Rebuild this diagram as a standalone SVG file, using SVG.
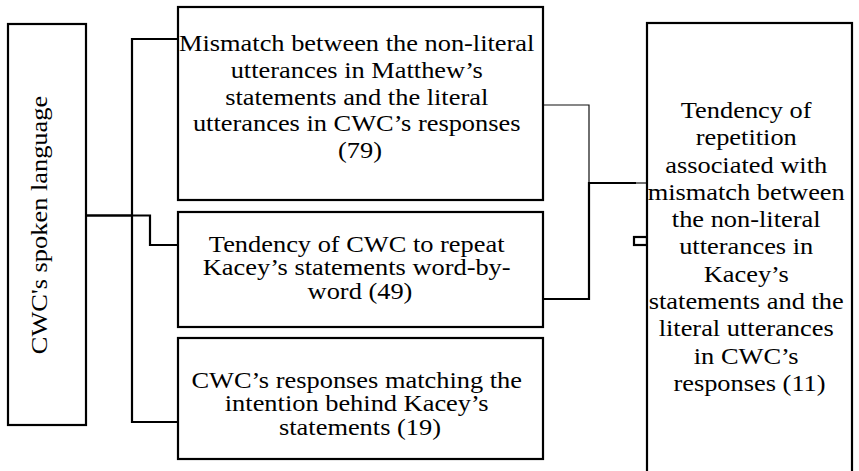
<svg xmlns="http://www.w3.org/2000/svg" width="859" height="471" viewBox="0 0 859 471">
<style>
.box{fill:#fff;stroke:#000;stroke-width:2.2}
.t{font-family:"Liberation Serif","Times New Roman",serif;font-size:24px;fill:#000;text-anchor:middle}
.c{fill:none;stroke:#000;stroke-width:2.2}
.thin{fill:none;stroke:#111;stroke-width:1.2}
</style>
<rect width="859" height="471" fill="#fff"/>
<g id="connectors">
<polyline class="c" points="86,215.5 150,215.5 150,245 178,245"/>
<polyline class="c" points="178,39 132,39 132,422 178,422"/>
<line class="c" x1="86" y1="215.5" x2="132" y2="215.5"/>
<polyline class="thin" points="543,105 589,105 589,183"/>
<polyline class="c" points="636,183 589,183 589,299 543,299"/>
<line class="thin" x1="636" y1="183" x2="647" y2="183"/>
<rect class="c" x="634" y="237" width="13" height="8" stroke-width="1.8"/>
</g>
<g id="node-left">
<rect class="box" x="8" y="24" width="78" height="401"/>
<text class="t" transform="translate(47,225) rotate(-90) scale(1.1,1)" x="0" y="0">CWC's spoken language</text>
</g>
<g id="node-mismatch">
<rect class="box" x="178" y="7" width="365" height="193"/>
<text class="t" transform="translate(360,0) scale(1.1,1)">
<tspan x="0" y="51">Mismatch between the non-literal</tspan>
<tspan x="0" y="77.8">utterances in Matthew’s</tspan>
<tspan x="0" y="104.6">statements and the literal</tspan>
<tspan x="0" y="131.4">utterances in CWC’s responses</tspan>
<tspan x="0" y="158.5">(79)</tspan>
</text>
</g>
<g id="node-repeat">
<rect class="box" x="178" y="212" width="365" height="115"/>
<text class="t" transform="translate(360,0) scale(1.1,1)">
<tspan x="0" y="252">Tendency of CWC to repeat</tspan>
<tspan x="0" y="275.5">Kacey’s statements word-by-</tspan>
<tspan x="0" y="299">word (49)</tspan>
</text>
</g>
<g id="node-matching">
<rect class="box" x="178" y="338" width="365" height="121"/>
<text class="t" transform="translate(360,0) scale(1.1,1)">
<tspan x="0" y="388">CWC’s responses matching the</tspan>
<tspan x="0" y="411.5">intention behind Kacey’s</tspan>
<tspan x="0" y="435">statements (19)</tspan>
</text>
</g>
<g id="node-right">
<rect class="box" x="647" y="23" width="205" height="460"/>
<text class="t" transform="translate(749.5,0) scale(1.1,1)">
<tspan x="0" y="118">Tendency of</tspan>
<tspan x="0" y="145.3">repetition</tspan>
<tspan x="0" y="172.6">associated with</tspan>
<tspan x="0" y="199.9">mismatch between</tspan>
<tspan x="0" y="227.2">the non-literal</tspan>
<tspan x="0" y="254.5">utterances in</tspan>
<tspan x="0" y="281.8">Kacey’s</tspan>
<tspan x="0" y="309.1">statements and the</tspan>
<tspan x="0" y="336.4">literal utterances</tspan>
<tspan x="0" y="363.7">in CWC’s</tspan>
<tspan x="0" y="391">responses (11)</tspan>
</text>
</g>
</svg>
